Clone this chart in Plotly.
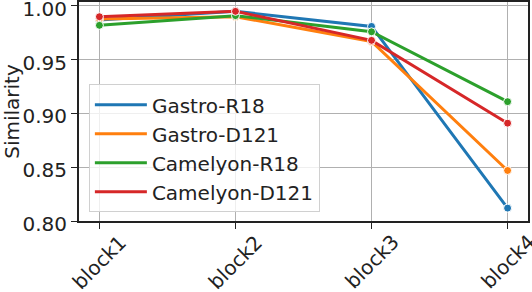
import plotly.graph_objects as go

blocks = ["block1", "block2", "block3", "block4"]
gastro_r18 = [0.987, 0.995, 0.981, 0.812]
gastro_d121 = [0.988, 0.990, 0.967, 0.847]
camelyon_r18 = [0.982, 0.991, 0.976, 0.911]
camelyon_d121 = [0.990, 0.995, 0.968, 0.891]

series = [
    ("Gastro-R18", gastro_r18, "#1f77b4"),
    ("Gastro-D121", gastro_d121, "#ff7f0e"),
    ("Camelyon-R18", camelyon_r18, "#2ca02c"),
    ("Camelyon-D121", camelyon_d121, "#d62728"),
]

FS = 20
fig = go.Figure()
for name, vals, col in series:
    fig.add_trace(go.Scatter(
        x=list(range(len(blocks))), y=vals, name=name, mode="lines+markers",
        line=dict(color=col, width=3), showlegend=False,
        marker=dict(color=col, size=8, line=dict(color="white", width=1)),
    ))
for name, vals, col in series:
    fig.add_trace(go.Scatter(
        x=[None], y=[None], name=name, mode="lines",
        line=dict(color=col, width=3), showlegend=True,
    ))

for i, b in enumerate(blocks):
    fig.add_annotation(
        x=i, xref="x", y=-0.185, yref="paper", text=b, showarrow=False,
        textangle=-45, xanchor="center", yanchor="middle", borderpad=0,
        font=dict(family="DejaVu Sans", size=FS, color="#222"),
    )

fig.update_layout(
    width=532, height=292,
    margin=dict(l=79, r=4, t=2, b=71, autoexpand=False),
    paper_bgcolor="white", plot_bgcolor="white",
    font=dict(family="DejaVu Sans", size=FS, color="#222"),
    showlegend=True,
    legend=dict(x=0.022, y=0.624, xanchor="left", yanchor="top",
                bgcolor="rgba(255,255,255,0.8)", bordercolor="#d0d0d0", borderwidth=1,
                font=dict(size=FS), itemwidth=52),
)
fig.update_xaxes(
    range=[-0.15, 3.15], tickmode="array", tickvals=list(range(len(blocks))),
    showticklabels=False, showgrid=True, gridcolor="#b0b0b0", gridwidth=1,
    showline=True, linecolor="#222", linewidth=2, mirror=True, automargin=False,
    ticks="outside", ticklen=6, tickcolor="#222", zeroline=False,
)
fig.update_yaxes(
    range=[0.8, 1.0037], tickmode="array", tickvals=[0.80, 0.85, 0.90, 0.95, 1.00],
    ticktext=["0.80", "0.85", "0.90", "0.95", "1.00"], ticklabeloverflow="allow",
    ticklabelshift=3,
    showgrid=True, gridcolor="#b0b0b0", gridwidth=1, automargin=False,
    showline=True, linecolor="#222", linewidth=2, mirror=True,
    ticks="outside", ticklen=6, tickcolor="#222", zeroline=False,
    title=dict(text="Similarity", font=dict(size=FS), standoff=12),
)
fig.write_html("out.html", post_script="document.body.style.margin='0';",
               config={"displayModeBar": False})
